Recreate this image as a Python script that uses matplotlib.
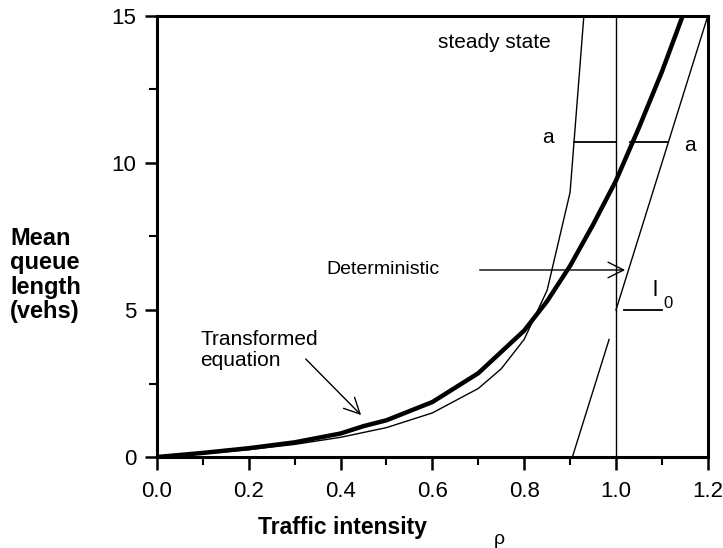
import matplotlib
matplotlib.use("Agg")
import matplotlib.pyplot as plt
from matplotlib.ticker import MultipleLocator

plt.rcParams["font.family"] = ["Liberation Sans", "DejaVu Sans"]

# steady-state queue curve
rho_steady = [0.0, 0.1, 0.2, 0.3, 0.4, 0.5, 0.6, 0.7, 0.75, 0.8, 0.85, 0.9, 0.95]
q_steady = [0.0, 0.11, 0.25, 0.43, 0.67, 1.0, 1.5, 2.33, 3.0, 4.0, 5.67, 9.0, 19.0]

# transformed (time-dependent) equation
rho_trans = [0.0, 0.1, 0.2, 0.3, 0.4, 0.45, 0.5, 0.6, 0.7, 0.8, 0.85,
             0.9, 0.95, 1.0, 1.05, 1.1, 1.15]
q_trans = [0.0, 0.14, 0.3, 0.5, 0.8, 1.05, 1.25, 1.87, 2.85, 4.3, 5.3,
           6.5, 7.9, 9.4, 11.2, 13.1, 15.2]

# deterministic lines (with and without initial queue l0)
rho_det = [1.0, 1.2]
q_det = [5.0, 15.0]
rho_det0 = [0.905, 0.985]
q_det0 = [0.0, 4.0]

l0 = 5.0
a_level = 10.7
a_left = [0.908, 1.0]
a_right = [1.03, 1.114]

fig = plt.figure(figsize=(7.23, 5.48), dpi=100)
ax = fig.add_axes([0.217, 0.166, 0.762, 0.805])

ax.plot(rho_steady, q_steady, color="black", lw=1.0)
ax.plot(rho_trans, q_trans, color="black", lw=3.2)
ax.plot(rho_det, q_det, color="black", lw=1.0)
ax.plot(rho_det0, q_det0, color="black", lw=1.0)
ax.axvline(1.0, color="black", lw=1.0)

ax.plot(a_left, [a_level, a_level], color="black", lw=1.3)
ax.plot(a_right, [a_level, a_level], color="black", lw=1.3)
ax.plot([1.017, 1.10], [l0, l0], color="black", lw=1.3)

fs = 15
ax.text(0.852, a_level + 0.15, "a", fontsize=fs, ha="center", va="center")
ax.text(1.16, a_level - 0.1, "a", fontsize=fs, ha="center", va="center")
ax.text(0.736, 14.08, "steady state", fontsize=fs, ha="center", va="center")
ax.text(1.085, l0 + 0.3, "l", fontsize=16, ha="center", va="bottom")
ax.text(1.113, l0 - 0.05, "0", fontsize=12, ha="center", va="bottom")

ax.annotate("", xy=(1.026, 6.36), xytext=(0.697, 6.36),
            arrowprops=dict(arrowstyle="->", color="black", lw=1.0,
                            mutation_scale=28))
ax.text(0.492, 6.36, "Deterministic", fontsize=14, ha="center", va="center")

ax.annotate("", xy=(0.449, 1.36), xytext=(0.32, 3.4),
            arrowprops=dict(arrowstyle="->", color="black", lw=1.0,
                            mutation_scale=28))
ax.text(0.094, 3.64, "Transformed\nequation", fontsize=fs, ha="left",
        va="center", linespacing=1.1)

ax.set_xlim(0, 1.2)
ax.set_ylim(0, 15)
ax.xaxis.set_major_locator(MultipleLocator(0.2))
ax.xaxis.set_minor_locator(MultipleLocator(0.1))
ax.yaxis.set_major_locator(MultipleLocator(5))
ax.yaxis.set_minor_locator(MultipleLocator(2.5))
ax.xaxis.set_major_formatter(plt.FormatStrFormatter("%.1f"))

ax.tick_params(which="major", length=9, width=1.8, labelsize=16)
ax.tick_params(which="minor", length=6, width=1.5)
ax.tick_params(axis="x", which="major", pad=8)
ax.tick_params(axis="y", which="major", pad=6)
for s in ax.spines.values():
    s.set_linewidth(2.2)

fig.text(0.014, 0.498, "Mean\nqueue\nlength\n(vehs)", fontsize=17,
         fontweight="bold", ha="left", va="center", linespacing=1.08)
fig.text(0.474, 0.038, "Traffic intensity", fontsize=16.5,
         fontweight="bold", ha="center", va="center")
fig.text(0.690, 0.016, "ρ", fontsize=14, ha="center", va="center")

fig.savefig("out.png", dpi=100)
